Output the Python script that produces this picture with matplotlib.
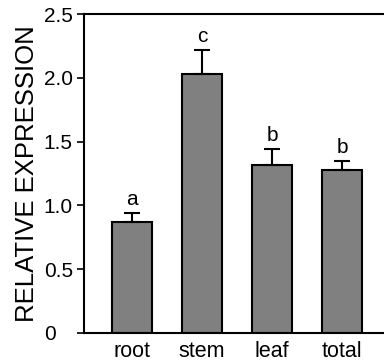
"""Relative expression by tissue, bar chart with upper error bars and letters."""

import matplotlib

matplotlib.use("Agg")
import matplotlib.pyplot as plt

plt.rcParams["font.family"] = ["Liberation Sans", "DejaVu Sans"]

tissues = ["root", "stem", "leaf", "total"]
expression = [0.87, 2.03, 1.32, 1.28]
errors = [0.07, 0.19, 0.12, 0.07]
letters = ["a", "c", "b", "b"]
y_ticks = [0, 0.5, 1.0, 1.5, 2.0, 2.5]
y_tick_labels = ["0", "0.5", "1.0", "1.5", "2.0", "2.5"]


def main() -> None:
    fig = plt.figure(figsize=(3.84, 3.63), dpi=100)
    ax = fig.add_axes([84 / 384, 30 / 363, 1 - 84 / 384, (333 - 14) / 363])

    x = list(range(len(tissues)))
    ax.bar(x, expression, width=0.57, color="#808080", edgecolor="black", linewidth=1.5, zorder=2)
    ax.errorbar(
        x,
        expression,
        yerr=[[0] * len(errors), errors],
        fmt="none",
        ecolor="black",
        elinewidth=1.5,
        capsize=6,
        capthick=1.5,
        zorder=3,
    )
    for xi, val, err, letter in zip(x, expression, errors, letters):
        ax.text(xi, val + err + 0.03, letter, ha="center", va="bottom", fontsize=15)

    ax.set_xlim(-0.686, 3.6)
    ax.set_ylim(0, 2.5)
    ax.set_yticks(y_ticks)
    ax.set_yticklabels(y_tick_labels, fontsize=15)
    ax.set_xticks(x)
    ax.set_xticklabels(tissues, fontsize=15.5)
    ax.tick_params(axis="x", length=0, pad=6)
    # labels in the reference are left-aligned at a common x
    ax.tick_params(axis="y", length=5, width=1.2, pad=24)
    for label in ax.get_yticklabels():
        label.set_horizontalalignment("left")
    ax.set_ylabel("RELATIVE EXPRESSION", fontsize=18.5)
    ax.yaxis.set_label_coords(-45 / 300, 0.5)

    ax.spines["right"].set_visible(False)
    for side in ("left", "top", "bottom"):
        ax.spines[side].set_linewidth(1.5)

    plt.savefig("out.png", dpi=100)
    plt.close(fig)


if __name__ == "__main__":
    main()
